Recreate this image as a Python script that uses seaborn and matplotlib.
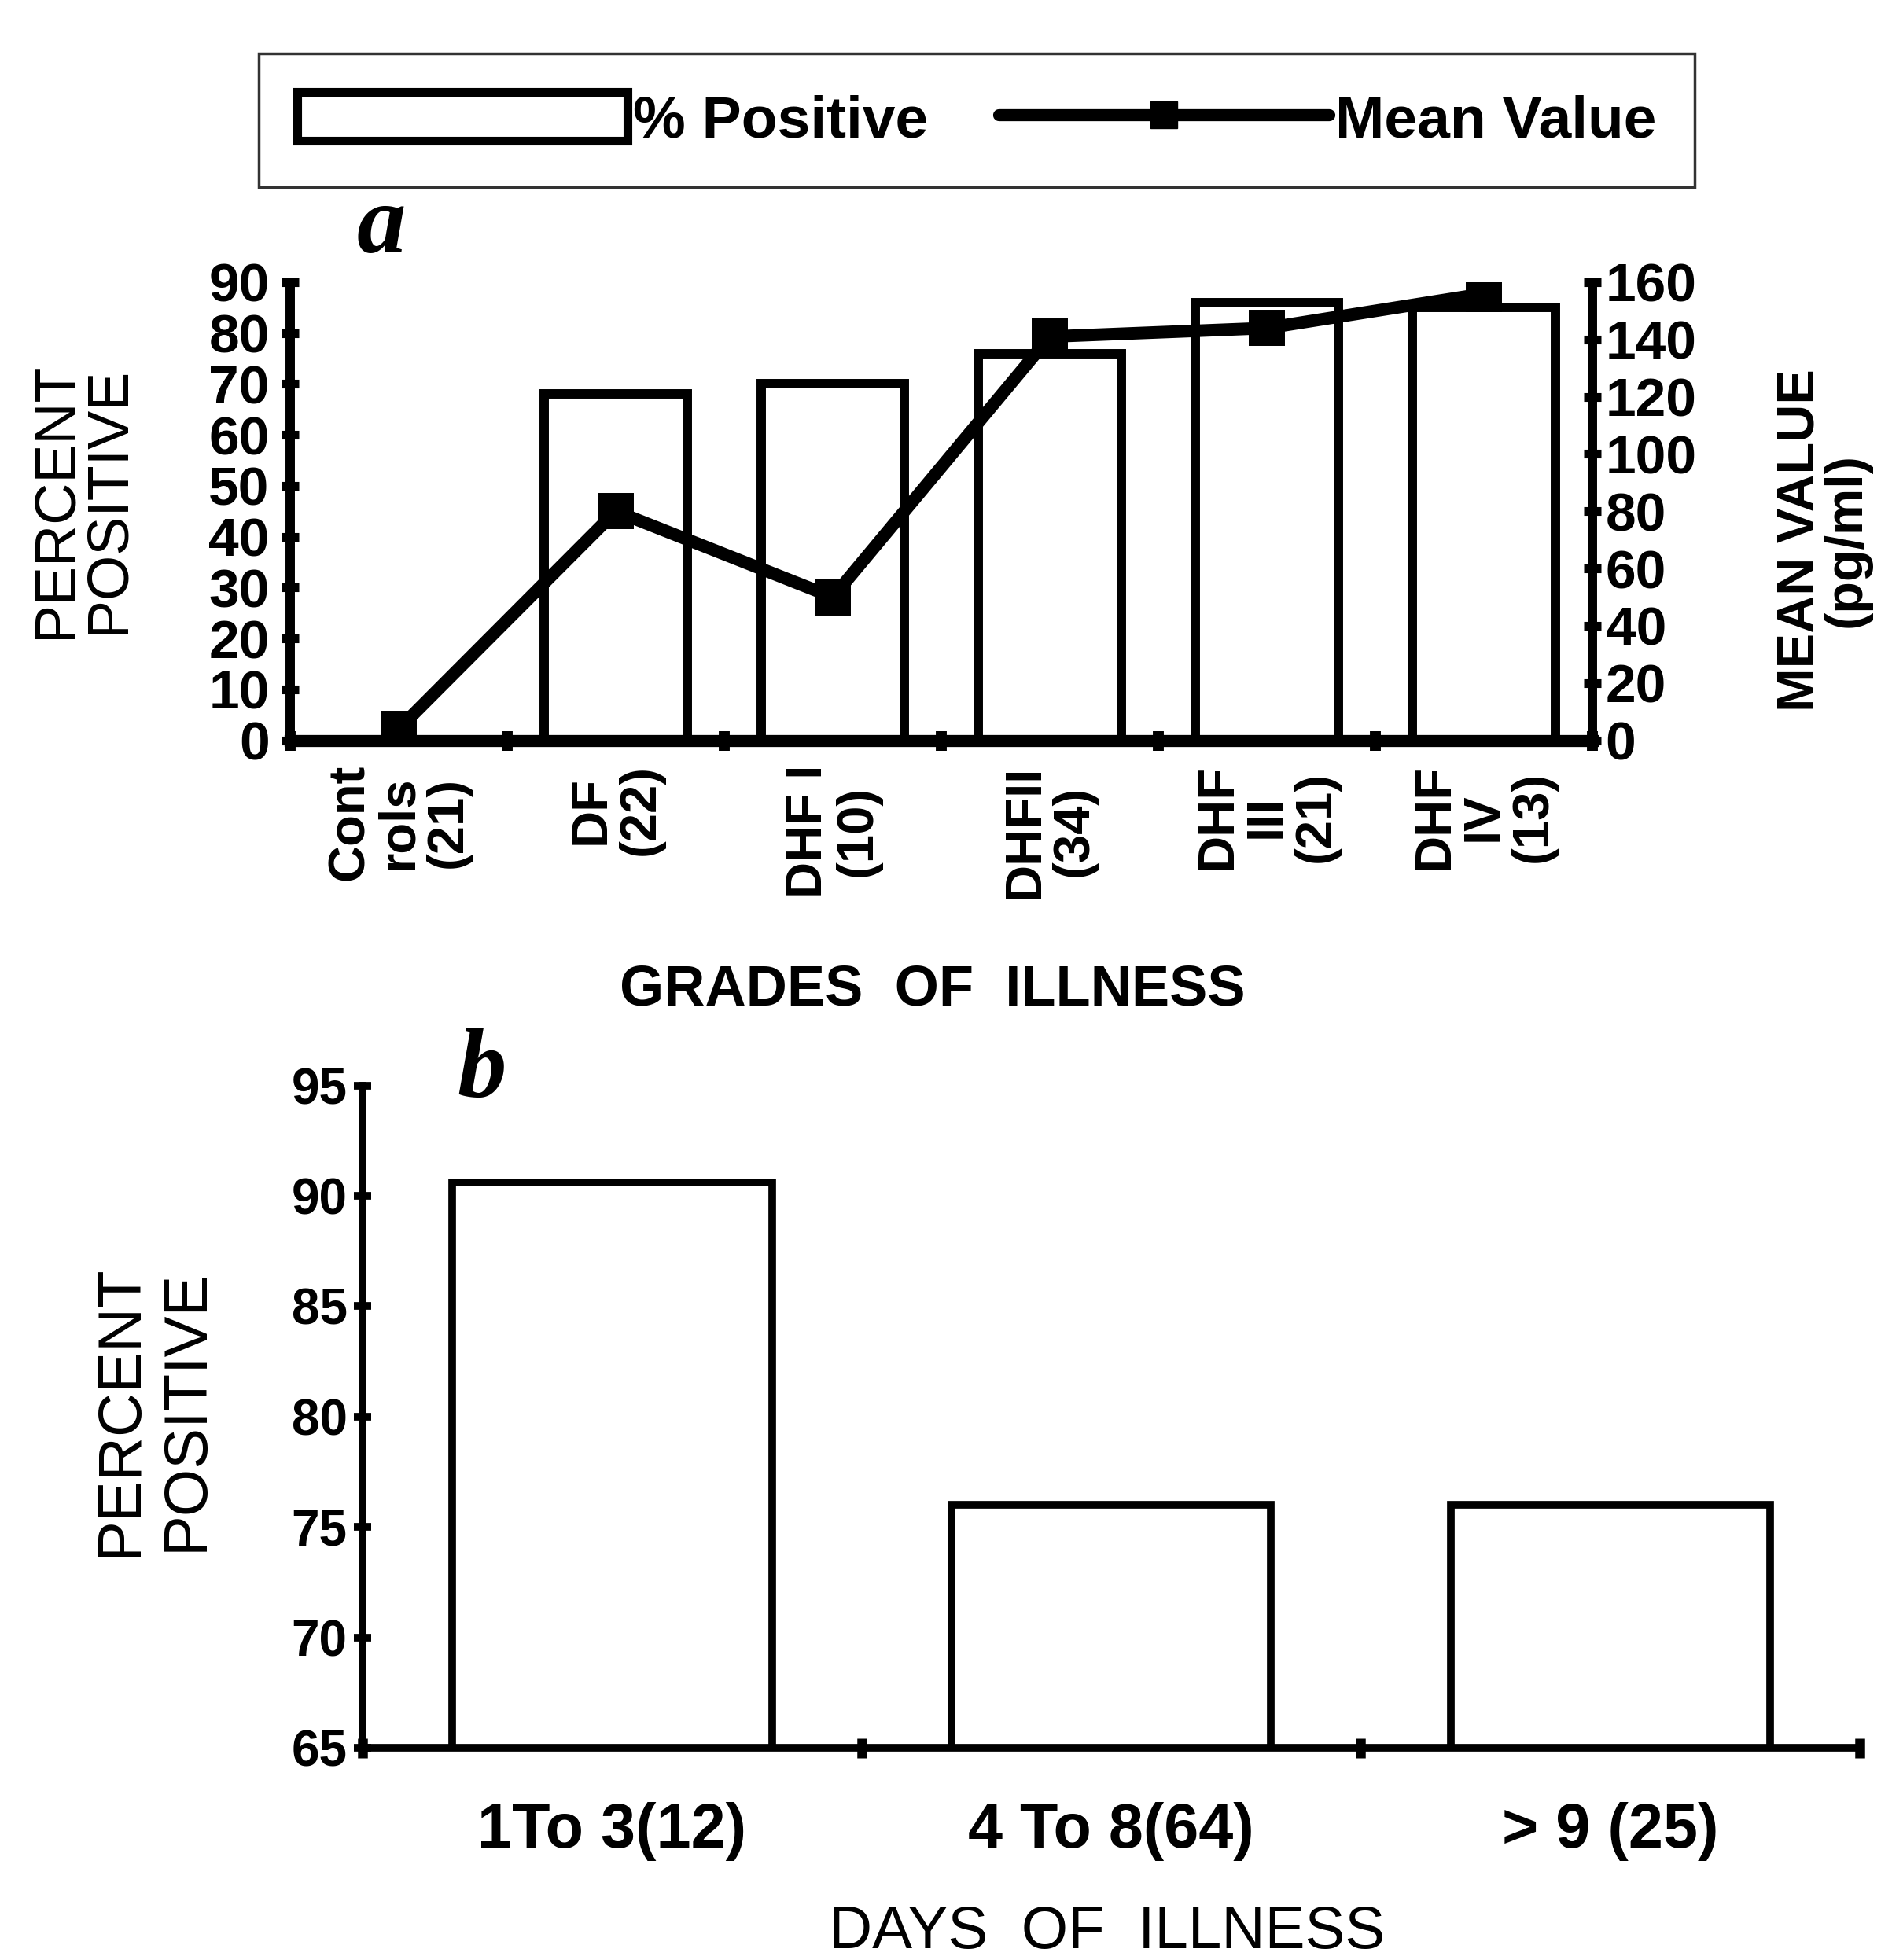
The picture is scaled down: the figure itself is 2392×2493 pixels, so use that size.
import numpy as np
import seaborn as sns
import matplotlib.pyplot as plt
from matplotlib.patches import Patch
from matplotlib.lines import Line2D

# panel a: grades of illness
grades = ["Cont\nrols\n(21)", "DF\n(22)", "DHF I\n(10)", "DHFII\n(34)", "DHF\nIII\n(21)", "DHF\nIV\n(13)"]
pct_positive_a = [0, 68, 70, 76, 86, 85]
mean_value = [4, 80, 50, 141, 144, 156]
ticks_pct_a = list(range(0, 100, 10))
ticks_mean = list(range(0, 180, 20))

# panel b: days of illness
days = ["1To 3(12)", "4 To 8(64)", "> 9 (25)"]
pct_positive_b = [90.6, 76, 76]
ticks_pct_b = list(range(65, 100, 5))

sns.set_style("white")
plt.rcParams["font.family"] = ["Liberation Sans", "DejaVu Sans"]
plt.rcParams.update({"text.color": "black", "axes.labelcolor": "black",
                     "xtick.color": "black", "ytick.color": "black"})
narrow = ["Liberation Sans Narrow", "Liberation Sans", "DejaVu Sans"]

fig = plt.figure(figsize=(23.92, 24.93), dpi=100)

# ---------------- panel a ----------------
ax1 = fig.add_axes([0.1543, 0.6223, 0.6923, 0.2337])
sns.barplot(x=grades, y=pct_positive_a, ax=ax1, color="white", saturation=1,
            edgecolor="black", linewidth=8.6, width=0.66)
ax1.set_xlim(-0.5, len(grades) - 0.5)
ax1.set_ylim(0, 90)
ax1.set_yticks(ticks_pct_a, [str(t) for t in ticks_pct_a], fontfamily=narrow,
               fontweight="bold", fontsize=50)
ax1.set_xticks(range(len(grades)), grades, rotation=90, fontweight="bold",
               fontsize=47, ha="center", va="top", multialignment="center",
               linespacing=1.05)
ax1.set_xticks(np.arange(-0.5, len(grades)), minor=True)
ax1.tick_params(axis="y", direction="inout", length=16, width=8, pad=11, left=True)
ax1.tick_params(axis="x", which="major", length=0, pad=22)
ax1.tick_params(axis="x", which="minor", direction="inout", length=18, width=10, bottom=True)
for s in ["top", "right"]:
    ax1.spines[s].set_visible(False)
ax1.spines["left"].set_linewidth(8.6)
ax1.spines["bottom"].set_linewidth(11)
for s in ["left", "bottom"]:
    ax1.spines[s].set_color("black")
ax1.set_ylabel("PERCENT\nPOSITIVE", fontsize=53, linespacing=0.95)
ax1.yaxis.set_label_coords(-0.119, 0.524)
ax1.set_xlabel("GRADES  OF  ILLNESS", fontsize=52, fontweight="bold")
ax1.xaxis.set_label_coords(0.493, -0.487)

ax2 = ax1.twinx()
sns.pointplot(x=grades, y=mean_value, ax=ax2, color="black", markers="s",
              errorbar=None, linewidth=11.5, markersize=24)
ax2.set_xlim(-0.5, len(grades) - 0.5)
ax2.set_ylim(0, 160)
ax2.set_yticks(ticks_mean, [str(t) for t in ticks_mean], fontfamily=narrow,
               fontweight="bold", fontsize=50)
ax2.tick_params(axis="y", direction="inout", length=16, width=8, pad=4, right=True)
for s in ["top", "left", "bottom"]:
    ax2.spines[s].set_visible(False)
ax2.spines["right"].set_linewidth(8.6)
ax2.spines["right"].set_color("black")
ax2.set_ylabel("MEAN VALUE\n(pg/ml)", fontsize=48, fontweight="bold", linespacing=0.95)
ax2.yaxis.set_label_coords(1.1407, 0.437)
ax2.set_xlabel("")

# ---------------- panel b ----------------
ax3 = fig.add_axes([0.1928, 0.1083, 0.7959, 0.3379])
sns.barplot(x=days, y=pct_positive_b, ax=ax3, color="white", saturation=1,
            edgecolor="black", linewidth=7, width=0.64)
ax3.set_xlim(-0.5, len(days) - 0.5)
ax3.set_ylim(65, 95)
ax3.set_yticks(ticks_pct_b, [str(t) for t in ticks_pct_b], fontweight="bold", fontsize=46)
ax3.set_xticks(range(len(days)), days, fontweight="bold", fontsize=57)
ax3.set_xticks(np.arange(-0.5, len(days)), minor=True)
ax3.tick_params(axis="y", direction="inout", length=16, width=7, pad=6, left=True)
ax3.tick_params(axis="x", which="major", length=0, pad=50)
ax3.tick_params(axis="x", which="minor", direction="inout", length=18, width=9, bottom=True)
for s in ["top", "right"]:
    ax3.spines[s].set_visible(False)
for s in ["left", "bottom"]:
    ax3.spines[s].set_linewidth(7)
    ax3.spines[s].set_color("black")
ax3.set_ylabel("PERCENT\nPOSITIVE", fontsize=56)
ax3.yaxis.set_label_coords(-0.0985, 0.509)
ax3.set_xlabel("DAYS  OF  ILLNESS", fontsize=55)
ax3.xaxis.set_label_coords(0.497, -0.237)

# panel letters
fig.text(0.2028, 0.8833, "a", family=["Liberation Serif", "DejaVu Serif"], style="italic",
         weight="bold", fontsize=90, ha="center", va="center")
fig.text(0.2559, 0.4525, "b", family=["Liberation Serif", "DejaVu Serif"], style="italic",
         weight="bold", fontsize=90, ha="center", va="center")

# legend
handles = [Patch(facecolor="white", edgecolor="black", linewidth=8),
           Line2D([], [], color="black", linewidth=11, marker="s", markersize=24)]
leg = fig.legend(handles=handles, labels=["% Positive", "Mean Value"], loc="center",
                 bbox_to_anchor=(0.5192, 0.9386), ncol=2, frameon=True, fancybox=False,
                 edgecolor="black", prop={"weight": "bold", "size": 54},
                 handlelength=5.6, handleheight=0.9, handletextpad=0.1,
                 columnspacing=1.2, borderpad=0.65)
leg.get_frame().set_linewidth(2.5)

fig.savefig("out.png", dpi=100)
